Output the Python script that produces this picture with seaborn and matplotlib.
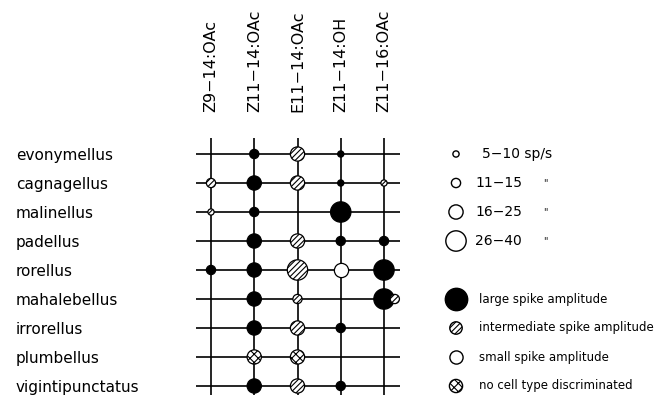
import matplotlib
matplotlib.use("Agg")
import matplotlib.pyplot as plt
import seaborn as sns
import pandas as pd

# ---- data ----
compounds = ["Z9\u221214:OAc", "Z11\u221214:OAc", "E11\u221214:OAc", "Z11\u221214:OH", "Z11\u221216:OAc"]
species = ["evonymellus", "cagnagellus", "malinellus", "padellus", "rorellus",
           "mahalebellus", "irrorellus", "plumbellus", "vigintipunctatus"]

# each response: species, compound, size class (1..4), cell type, small side offset
resp_species = ["evonymellus", "evonymellus", "evonymellus",
                "cagnagellus", "cagnagellus", "cagnagellus", "cagnagellus", "cagnagellus",
                "malinellus", "malinellus", "malinellus",
                "padellus", "padellus", "padellus", "padellus",
                "rorellus", "rorellus", "rorellus", "rorellus", "rorellus",
                "mahalebellus", "mahalebellus", "mahalebellus", "mahalebellus",
                "irrorellus", "irrorellus", "irrorellus",
                "plumbellus", "plumbellus",
                "vigintipunctatus", "vigintipunctatus", "vigintipunctatus"]
resp_compound = [1, 2, 3,
                 0, 1, 2, 3, 4,
                 0, 1, 3,
                 1, 2, 3, 4,
                 0, 1, 2, 3, 4,
                 1, 2, 4, 4,
                 1, 2, 3,
                 1, 2,
                 1, 2, 3]
resp_class = [2, 3, 1,
              2, 3, 3, 1, 1,
              1, 2, 4,
              3, 3, 2, 2,
              2, 3, 4, 3, 4,
              3, 2, 4, 2,
              3, 3, 2,
              3, 3,
              3, 3, 2]
resp_type = ["large", "inter", "large",
             "inter", "large", "inter", "large", "inter",
             "inter", "large", "large",
             "large", "inter", "large", "large",
             "large", "large", "inter", "small", "large",
             "large", "inter", "large", "inter",
             "large", "inter", "large",
             "none", "none",
             "large", "inter", "large"]
resp_offset = [0, 0, 0,
               0, 0, 0, 0, 0,
               0, 0, 0,
               0, 0, 0, 0,
               0, 0, 0, 0, 0,
               0, 0, 0, 0.25,
               0, 0, 0,
               0, 0,
               0, 0, 0]

rate_labels = ["5\u221210 sp/s", "11\u221215", "16\u221225", "26\u221240"]
type_labels = ["large spike amplitude", "intermediate spike amplitude",
               "small spike amplitude", "no cell type discriminated"]

# ---- styling ----
sns.set_theme(style="white")
plt.rcParams["font.family"] = ["DejaVu Sans"]
plt.rcParams["hatch.linewidth"] = 0.8
plt.rcParams["text.color"] = "black"
plt.rcParams["xtick.color"] = "black"
plt.rcParams["ytick.color"] = "black"
plt.rcParams["xtick.labelcolor"] = "black"
plt.rcParams["ytick.labelcolor"] = "black"

size_map = {1: 20, 2: 44, 3: 105, 4: 215}
type_style = {
    "large": dict(facecolor="black", hatch=None),
    "inter": dict(facecolor="white", hatch="//////"),
    "small": dict(facecolor="white", hatch=None),
    "none": dict(facecolor="white", hatch="xxxx"),
}

df = pd.DataFrame({
    "species": resp_species,
    "x": [c + o for c, o in zip(resp_compound, resp_offset)],
    "y": [species.index(s) for s in resp_species],
    "cls": resp_class,
    "type": resp_type,
})

W, H = 666, 395
fig = plt.figure(figsize=(W / 100, H / 100), dpi=100)

# main grid axes
left_px, right_px, top_px, bot_px = 196, 400, 137.5, 395
ax = fig.add_axes([left_px / W, 1 - bot_px / H, (right_px - left_px) / W, (bot_px - top_px) / H])
col0, dcol = 211, 43.25
row0, drow = 154, 29
ax.set_xlim((left_px - col0) / dcol, (right_px - col0) / dcol)
ax.set_ylim((bot_px - row0) / drow, (top_px - row0) / drow)

ax.set_xticks(range(len(compounds)))
ax.set_yticks(range(len(species)))
ax.grid(True, color="black", linewidth=1.2)
ax.set_axisbelow(True)
for sp in ax.spines.values():
    sp.set_visible(False)

ax.xaxis.tick_top()
ax.set_xticklabels(compounds, rotation=90, fontsize=11.5, ha="center", va="bottom")
ax.set_yticklabels(species, fontsize=11, ha="left")
ax.tick_params(axis="x", length=0, pad=18)
ax.tick_params(axis="y", length=0, pad=(left_px - 16) * 0.72)

for t in ["large", "inter", "small", "none"]:
    sub = df[df["type"] == t]
    if sub.empty:
        continue
    st = type_style[t]
    sns.scatterplot(data=sub, x="x", y="y", size="cls", sizes=size_map,
                    size_norm=(1, 4), ax=ax, legend=False,
                    color=st["facecolor"], edgecolor="black", linewidth=0.9,
                    hatch=st["hatch"], zorder=3, clip_on=False)
ax.set_xlabel("")
ax.set_ylabel("")

# legend axes
lg = fig.add_axes([440 / W, 1 - bot_px / H, (W - 440) / W, (bot_px - top_px) / H])
lg.set_xlim(440, W)
lg.set_ylim(ax.get_ylim())
lg.axis("off")

leg1 = pd.DataFrame({"x": [456] * 4, "y": [0, 1, 2, 3], "cls": [1, 2, 3, 4]})
sns.scatterplot(data=leg1, x="x", y="y", size="cls", sizes=size_map, size_norm=(1, 4),
                ax=lg, legend=False, color="white", edgecolor="black", linewidth=1.0,
                clip_on=False)
for i, lab in enumerate(rate_labels):
    lg.text(482 if i == 0 else 475, i, lab, fontsize=10, va="center", ha="left")
    if i > 0:
        lg.text(543, i, "\"", fontsize=7, va="center", ha="left")

leg2_sizes = [260, 80, 90, 90]
for j, (t, lab) in enumerate(zip(["large", "inter", "small", "none"], type_labels)):
    st = type_style[t]
    yy = 5 + j
    d = pd.DataFrame({"x": [456], "y": [yy]})
    sns.scatterplot(data=d, x="x", y="y", s=leg2_sizes[j], ax=lg, legend=False,
                    color=st["facecolor"], edgecolor="black", linewidth=1.0,
                    hatch=st["hatch"], clip_on=False)
    lg.text(479, yy, lab, fontsize=8.5, va="center", ha="left")
lg.set_xlabel("")
lg.set_ylabel("")

fig.savefig("out.png", dpi=100)
